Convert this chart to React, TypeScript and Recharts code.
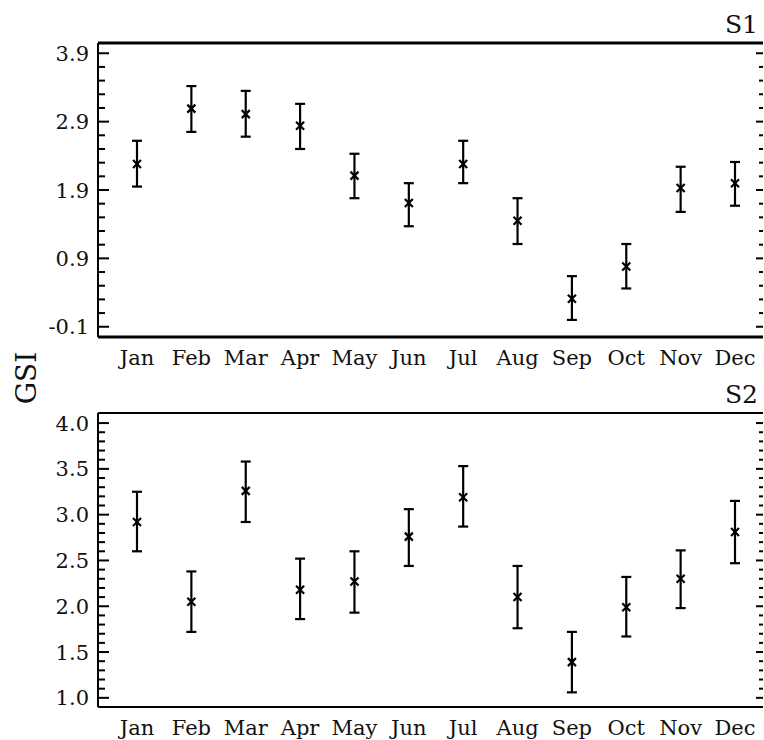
import * as React from 'react'
import { ErrorBar, Line, LineChart, XAxis, YAxis } from 'recharts'

const months = ['Jan', 'Feb', 'Mar', 'Apr', 'May', 'Jun', 'Jul', 'Aug', 'Sep', 'Oct', 'Nov', 'Dec']

// S1 monthly GSI means and the ends of their error bars
const s1Mean = [2.28, 3.09, 3.01, 2.84, 2.11, 1.71, 2.28, 1.45, 0.31, 0.78, 1.93, 2.0]
const s1Low = [1.95, 2.75, 2.68, 2.5, 1.78, 1.37, 2.0, 1.11, 0.0, 0.46, 1.58, 1.67]
const s1High = [2.62, 3.42, 3.35, 3.16, 2.43, 2.0, 2.62, 1.78, 0.64, 1.11, 2.24, 2.31]

// S2
const s2Mean = [2.92, 2.05, 3.26, 2.18, 2.27, 2.76, 3.19, 2.1, 1.39, 1.99, 2.3, 2.81]
const s2Low = [2.6, 1.72, 2.92, 1.86, 1.93, 2.44, 2.87, 1.76, 1.06, 1.67, 1.98, 2.47]
const s2High = [3.25, 2.38, 3.58, 2.52, 2.6, 3.06, 3.53, 2.44, 1.72, 2.32, 2.61, 3.15]

const s1Major = [-0.1, 0.9, 1.9, 2.9, 3.9]
const s1Minor = [
  -0.1, 0.1, 0.3, 0.5, 0.7, 0.9, 1.1, 1.3, 1.5, 1.7, 1.9, 2.1, 2.3, 2.5, 2.7, 2.9, 3.1, 3.3, 3.5,
  3.7, 3.9,
]
const s2Major = [1.0, 1.5, 2.0, 2.5, 3.0, 3.5, 4.0]
const s2Minor = [
  1.0, 1.1, 1.2, 1.3, 1.4, 1.5, 1.6, 1.7, 1.8, 1.9, 2.0, 2.1, 2.2, 2.3, 2.4, 2.5, 2.6, 2.7, 2.8,
  2.9, 3.0, 3.1, 3.2, 3.3, 3.4, 3.5, 3.6, 3.7, 3.8, 3.9, 4.0,
]

const FONT = '"DejaVu Serif", serif'

function buildRows(mean: number[], low: number[], high: number[]) {
  return months.map((m, i) => ({
    month: m,
    gsi: mean[i],
    err: [mean[i] - low[i], high[i] - mean[i]],
  }))
}

function isMajor(v: number, majors: number[]) {
  return majors.some((m) => Math.abs(m - v) < 1e-6)
}

function YTick(props: any) {
  const { x, y, payload, majors, side, decimals } = props
  const major = isMajor(payload.value, majors)
  const dir = side === 'left' ? 1 : -1
  const len = side === 'left' ? (major ? 11 : 7) : major ? 7 : 4
  return (
    <g>
      <line x1={x} y1={y} x2={x + dir * len} y2={y} stroke="#000" strokeWidth={2} />
      {side === 'left' && major && (
        <text x={x - 9} y={y} dy="0.36em" textAnchor="end" fontFamily={FONT} fontSize={21} fill="#111">
          {payload.value.toFixed(decimals)}
        </text>
      )}
    </g>
  )
}

function Marker(props: any) {
  const { cx, cy, index } = props
  if (cx == null || cy == null) return <g key={index} />
  const r = 4
  return (
    <g key={index}>
      <line x1={cx - r} y1={cy - r} x2={cx + r} y2={cy + r} stroke="#000" strokeWidth={2.2} />
      <line x1={cx - r} y1={cy + r} x2={cx + r} y2={cy - r} stroke="#000" strokeWidth={2.2} />
    </g>
  )
}

interface PanelProps {
  rows: { month: string; gsi: number; err: number[] }[]
  domain: [number, number]
  minor: number[]
  major: number[]
  decimals: number
  frame: number
}

function Panel({ rows, domain, minor, major, decimals, frame }: PanelProps) {
  return (
    <LineChart width={764} height={370} data={rows} margin={{ top: 42, right: 0, bottom: 0, left: 0 }}>
      <XAxis
        dataKey="month"
        type="category"
        scale="point"
        padding={{ left: 39, right: 28 }}
        interval={0}
        height={33}
        tickLine={false}
        tickSize={0}
        tickMargin={13}
        axisLine={{ stroke: '#000', strokeWidth: frame }}
        tick={{ fontFamily: FONT, fontSize: 21, fill: '#111' }}
      />
      <XAxis
        xAxisId="top"
        dataKey="month"
        orientation="top"
        height={1}
        tick={false}
        tickLine={false}
        axisLine={{ stroke: '#000', strokeWidth: frame }}
      />
      <YAxis
        type="number"
        domain={domain}
        allowDataOverflow
        ticks={minor}
        interval={0}
        width={98}
        tickSize={0}
        tickMargin={0}
        tickLine={false}
        axisLine={{ stroke: '#000', strokeWidth: 2 }}
        tick={<YTick majors={major} side="left" decimals={decimals} />}
      />
      <YAxis
        yAxisId="right"
        orientation="right"
        type="number"
        domain={domain}
        allowDataOverflow
        ticks={minor}
        interval={0}
        width={1}
        tickSize={0}
        tickMargin={0}
        tickLine={false}
        axisLine={false}
        tick={<YTick majors={major} side="right" decimals={decimals} />}
      />
      <Line
        dataKey="gsi"
        stroke="none"
        isAnimationActive={false}
        dot={(p: any) => <Marker key={p.index} {...p} />}
        activeDot={false}
      >
        <ErrorBar dataKey="err" direction="y" width={5} strokeWidth={2.2} stroke="#000" />
      </Line>
    </LineChart>
  )
}

export default function App() {
  const s1Rows = buildRows(s1Mean, s1Low, s1High)
  const s2Rows = buildRows(s2Mean, s2Low, s2High)
  return (
    <div style={{ position: 'absolute', left: 0, top: 0, width: 764, height: 740, background: '#fff' }}>
      <div style={{ position: 'absolute', left: 0, top: 0 }}>
        <Panel rows={s1Rows} domain={[-0.25, 4.05]} minor={s1Minor} major={s1Major} decimals={1} frame={3} />
      </div>
      <div style={{ position: 'absolute', left: 0, top: 370 }}>
        <Panel rows={s2Rows} domain={[0.9, 4.11]} minor={s2Minor} major={s2Major} decimals={1} frame={2} />
      </div>
      <svg width={764} height={740} style={{ position: 'absolute', left: 0, top: 0, pointerEvents: 'none' }}>
        <text x={758} y={33} textAnchor="end" fontFamily={FONT} fontSize={25} fill="#111">
          S1
        </text>
        <text x={758} y={403} textAnchor="end" fontFamily={FONT} fontSize={25} fill="#111">
          S2
        </text>
        <text
          transform="translate(26, 378) rotate(-90)"
          textAnchor="middle"
          dy="0.36em"
          fontFamily={FONT}
          fontSize={28}
          fill="#111"
        >
          GSI
        </text>
      </svg>
    </div>
  )
}
